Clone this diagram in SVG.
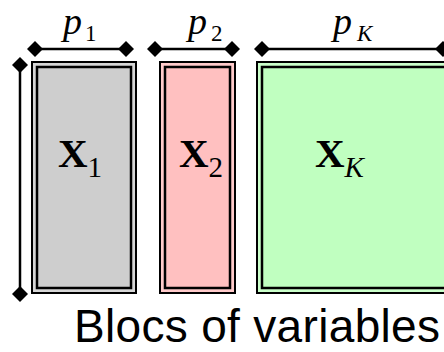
<svg xmlns="http://www.w3.org/2000/svg" width="444" height="352" viewBox="0 0 444 352">
<style>
.outer{stroke:#000;stroke-width:2}
.inner{stroke:#000;stroke-width:2.5}
.dim{stroke:#000;stroke-width:2.5;fill:none;marker-start:url(#dia);marker-end:url(#dia)}
.serif{font-family:"Liberation Serif","Times New Roman",serif;fill:#000}
.big{font-size:41px}
.pv{font-size:38px;font-style:italic}
.sub{font-size:23px}
.msub{font-size:29px}
.cap{font-family:"Liberation Sans",Arial,sans-serif;font-size:46px;fill:#000}
</style>
<defs>
<marker id="dia" viewBox="-8 -8 16 16" markerWidth="16" markerHeight="16" markerUnits="userSpaceOnUse" refX="0" refY="0" orient="auto">
<path d="M-8 0L0-8L8 0L0 8Z" fill="#000"/>
</marker>
</defs>
<rect width="444" height="352" fill="#fff"/>
<g id="block1">
<rect class="outer" x="32" y="62" width="104" height="231" fill="#d6d6d6"/>
<rect class="inner" x="37" y="67" width="94" height="221" fill="#cecece"/>
<text class="serif big" x="58" y="167"><tspan font-weight="bold">X</tspan><tspan class="msub" dy="10">1</tspan></text>
</g>
<g id="block2">
<rect class="outer" x="160" y="62" width="75" height="231" fill="#ffcaca"/>
<rect class="inner" x="165" y="67" width="65" height="221" fill="#ffc0c0"/>
<text class="serif big" x="179" y="167"><tspan font-weight="bold">X</tspan><tspan class="msub" dy="10">2</tspan></text>
</g>
<g id="blockK">
<rect class="outer" x="257" y="62" width="200" height="231" fill="#caffca"/>
<rect class="inner" x="262" y="67" width="190" height="221" fill="#c0ffc0"/>
<text class="serif big" x="315" y="167"><tspan font-weight="bold">X</tspan><tspan class="msub" font-style="italic" dy="10">K</tspan></text>
</g>
<g id="connectors">
<line class="dim" x1="20" y1="65" x2="20" y2="294"/>
<line class="dim" x1="35" y1="49" x2="126" y2="49"/>
<line class="dim" x1="155" y1="49" x2="232" y2="49"/>
<line class="dim" x1="262" y1="49" x2="443" y2="49"/>
<text class="serif" x="63" y="33.5"><tspan class="pv">p</tspan><tspan class="sub" x="85" y="40.5">1</tspan></text>
<text class="serif" x="188" y="33.5"><tspan class="pv">p</tspan><tspan class="sub" x="211" y="40.5">2</tspan></text>
<text class="serif" x="333" y="33.5"><tspan class="pv">p</tspan><tspan class="sub" font-style="italic" x="357" y="40.5">K</tspan></text>
</g>
<text class="cap" x="74" y="342" textLength="366">Blocs of variables</text>
</svg>
